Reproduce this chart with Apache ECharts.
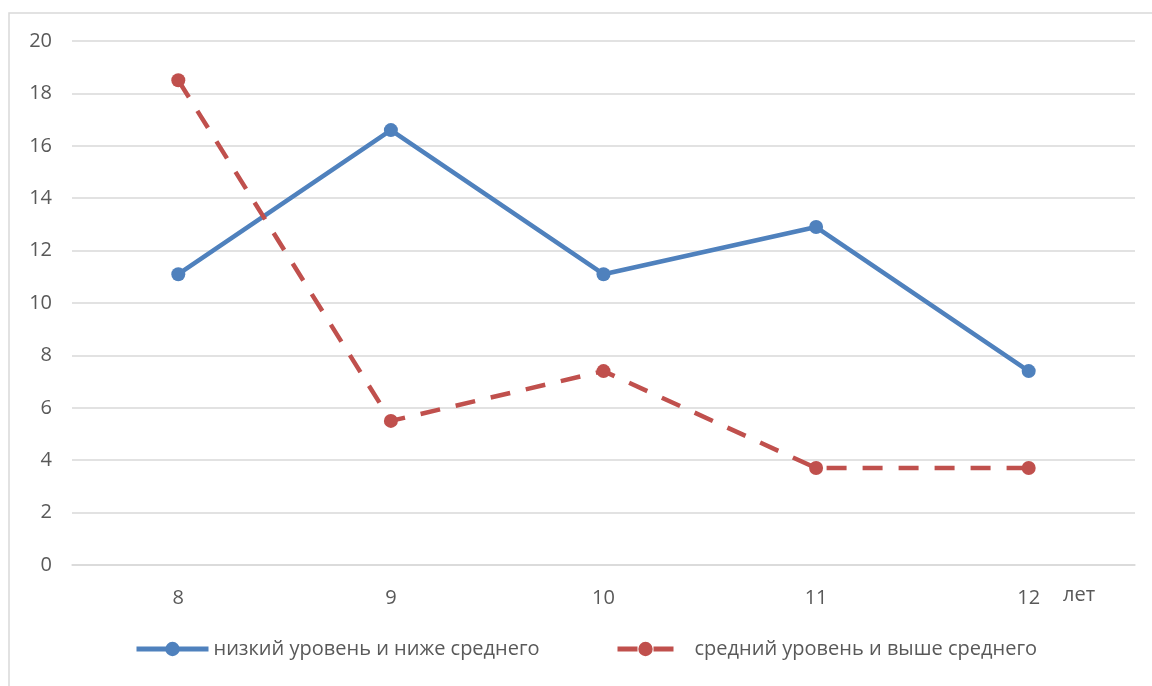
<!DOCTYPE html>
<html>
<head>
<meta charset="utf-8">
<script src="https://cdn.jsdelivr.net/npm/echarts@6/dist/echarts.min.js"></script>
<style>
  html, body { margin: 0; padding: 0; background: #fff; }
  #chart { width: 1152px; height: 686px; }
</style>
</head>
<body>
<div id="chart"></div>
<script>
// возраст (лет)
const ages = ['8', '9', '10', '11', '12']
const lowLevel = [11.1, 16.6, 11.1, 12.9, 7.4]
const midLevel = [18.5, 5.5, 7.4, 3.7, 3.7]
const lowName = 'низкий уровень и ниже среднего'
const midName = 'средний уровень и выше среднего'

const font = 'Open Sans'
const myChart = echarts.init(document.getElementById('chart'))
const option = {
  animation: false,
  textStyle: { fontFamily: font },
  graphic: [
    {
      type: 'rect',
      shape: { x: 9, y: 13, width: 1200, height: 720 },
      style: { fill: 'none', stroke: '#d9d9d9', lineWidth: 1.5 },
      silent: true
    },
    {
      type: 'text',
      left: 1063,
      top: 585,
      style: { text: 'лет', fill: '#595959', font: '20px "Open Sans"' }
    }
  ],
  grid: { left: 72, right: 17, top: 41, bottom: 121 },
  legend: [
    {
      data: [lowName],
      left: 129,
      top: 634,
      itemWidth: 72,
      itemHeight: 18,
      lineStyle: { width: 5 },
      textStyle: { color: '#595959', fontSize: 20, fontFamily: font }
    },
    {
      data: [midName],
      left: 610,
      top: 634,
      itemWidth: 56,
      itemHeight: 18,
      lineStyle: { width: 5 },
      textStyle: { color: '#595959', fontSize: 20, fontFamily: font, padding: [0, 0, 0, 16] }
    }
  ],
  xAxis: {
    type: 'category',
    data: ages,
    axisLine: { lineStyle: { color: '#d9d9d9', width: 1.5 } },
    axisTick: { show: false },
    axisLabel: { color: '#595959', fontSize: 20, margin: 23, fontFamily: font }
  },
  yAxis: {
    type: 'value',
    min: 0,
    max: 20,
    interval: 2,
    axisLine: { show: false },
    axisTick: { show: false },
    axisLabel: { color: '#595959', fontSize: 20, margin: 20, fontFamily: font },
    splitLine: { lineStyle: { color: '#d9d9d9', width: 1.5 } }
  },
  series: [
    {
      name: lowName,
      type: 'line',
      data: lowLevel,
      symbol: 'circle',
      symbolSize: 14,
      color: '#4f81bd',
      lineStyle: { width: 4.5, color: '#4f81bd' },
      itemStyle: { color: '#4f81bd' }
    },
    {
      name: midName,
      type: 'line',
      data: midLevel,
      symbol: 'circle',
      symbolSize: 14,
      color: '#c0504d',
      lineStyle: { width: 4.5, color: '#c0504d', type: [20, 16] },
      itemStyle: { color: '#c0504d' }
    }
  ]
}
myChart.setOption(option)
</script>
</body>
</html>
